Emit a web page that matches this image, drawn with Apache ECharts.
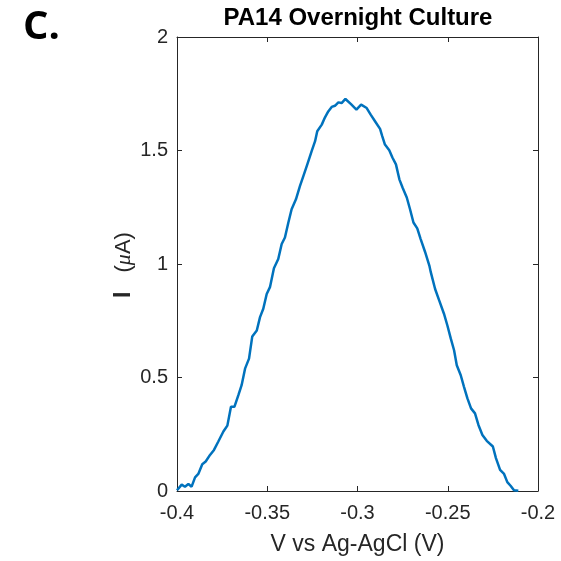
<!DOCTYPE html>
<html><head><meta charset="utf-8">
<script src="https://cdn.jsdelivr.net/npm/echarts@6/dist/echarts.min.js"></script>
<style>html,body{margin:0;padding:0;background:#fff}#c{width:561px;height:561px}</style>
</head><body><div id="c"></div>
<script>
var voltage = [-0.400,-0.3974,-0.3956,-0.3937,-0.3919,-0.3900,-0.3882,-0.3860,-0.3841,-0.3817,-0.3795,-0.3771,-0.3743,-0.3721,-0.3710,-0.3701,-0.3682,-0.3660,-0.3642,-0.3623,-0.3601,-0.3583,-0.3558,-0.3540,-0.3522,-0.3503,-0.3485,-0.3463,-0.3439,-0.3420,-0.3402,-0.3383,-0.3365,-0.3341,-0.3319,-0.3300,-0.3278,-0.3254,-0.3235,-0.3223,-0.3198,-0.3180,-0.3162,-0.3143,-0.3125,-0.3106,-0.3088,-0.3067,-0.3036,-0.3006,-0.2980,-0.2949,-0.2927,-0.2903,-0.2875,-0.2863,-0.2848,-0.2824,-0.2806,-0.2787,-0.2768,-0.2750,-0.2727,-0.2709,-0.2690,-0.2669,-0.2650,-0.2626,-0.2602,-0.2594,-0.2570,-0.2547,-0.2521,-0.2502,-0.2483,-0.2465,-0.2450,-0.2428,-0.2410,-0.2391,-0.2371,-0.2349,-0.2330,-0.2308,-0.2284,-0.2250,-0.2233,-0.2210,-0.2188,-0.2170,-0.2152,-0.2133,-0.2109];
var current = [0.003,0.028,0.019,0.031,0.019,0.060,0.075,0.118,0.130,0.159,0.181,0.218,0.262,0.288,0.291,0.371,0.371,0.422,0.466,0.539,0.583,0.681,0.707,0.766,0.803,0.868,0.898,0.981,1.022,1.088,1.117,1.183,1.241,1.285,1.343,1.387,1.439,1.497,1.541,1.585,1.614,1.646,1.672,1.692,1.697,1.712,1.709,1.727,1.704,1.680,1.702,1.687,1.658,1.629,1.595,1.563,1.526,1.501,1.468,1.439,1.373,1.336,1.293,1.241,1.183,1.157,1.110,1.054,0.993,0.964,0.890,0.839,0.781,0.729,0.671,0.620,0.554,0.510,0.459,0.408,0.364,0.342,0.291,0.247,0.221,0.196,0.145,0.093,0.075,0.039,0.023,0.003,0.001];
var xTicks = [-0.4,-0.35,-0.3,-0.25,-0.2];
var yTicks = [0,0.5,1,1.5,2];
var titleText = 'PA14 Overnight Culture';
var xLabel = 'V vs Ag-AgCl (V)';
var yLabelMain = 'I';
var yLabelUnitOpen = '(';
var yLabelMu = 'μ';
var yLabelUnitClose = 'A)';
var panelLabel = 'C.';

var data = voltage.map(function(v,i){return [v,current[i]];});
var chart = echarts.init(document.getElementById('c'), null, {renderer:'canvas'});
var axisCol = '#262626';
var tickFmtX = function(v){ return String(parseFloat(v.toFixed(2))); };
var tickFmtY = function(v){ return String(parseFloat(v.toFixed(1))); };
chart.setOption({
  animation:false,
  backgroundColor:'#fff',
  graphic:[
    {type:'text',left:23,top:8,style:{text:panelLabel,font:'bold 40px "Open Sans"',fill:'#000'}},
    {type:'text',x:124,y:265,rotation:Math.PI/2,
     style:{text:'{b|'+yLabelMain+'}{g|}{n|'+yLabelUnitOpen+'}{m|'+yLabelMu+'}{n|'+yLabelUnitClose+'}',
       align:'center',verticalAlign:'middle',
       rich:{b:{fontFamily:'Liberation Sans',fontWeight:'bold',fontSize:23,fill:axisCol,color:axisCol},
             g:{width:19,fontSize:20},
             n:{fontFamily:'Liberation Sans',fontSize:22,fill:axisCol,color:axisCol},
             m:{fontFamily:'Liberation Serif',fontStyle:'italic',fontSize:22,fill:axisCol,color:axisCol}}}}
  ],
  title:{text:titleText,left:358,top:6,padding:0,textAlign:'center',textStyle:{fontFamily:'Liberation Sans',fontWeight:'bold',fontSize:24,color:'#000'}},
  grid:{left:177,right:23,top:37,bottom:68,show:false},
  xAxis:[{type:'value',min:-0.4,max:-0.2,interval:0.05,position:'bottom',
    axisLine:{show:true,onZero:false,lineStyle:{color:axisCol,width:1}},
    axisTick:{show:true,inside:true,length:5,lineStyle:{color:axisCol}},
    axisLabel:{color:axisCol,fontFamily:'Liberation Sans',fontSize:20,margin:12,formatter:tickFmtX},
    splitLine:{show:false},
    name:xLabel,nameLocation:'middle',nameGap:42,nameTextStyle:{color:axisCol,fontFamily:'Liberation Sans',fontSize:23}},
   {type:'value',min:-0.4,max:-0.2,interval:0.05,position:'top',
    axisLine:{show:true,onZero:false,lineStyle:{color:axisCol,width:1}},
    axisTick:{show:true,inside:true,length:5,lineStyle:{color:axisCol}},
    axisLabel:{show:false},splitLine:{show:false}}],
  yAxis:[{type:'value',min:0,max:2,interval:0.5,position:'left',
    axisLine:{show:true,onZero:false,lineStyle:{color:axisCol,width:1}},
    axisTick:{show:true,inside:true,length:5,lineStyle:{color:axisCol}},
    axisLabel:{color:axisCol,fontFamily:'Liberation Sans',fontSize:20,margin:9,formatter:tickFmtY},
    splitLine:{show:false}},
   {type:'value',min:0,max:2,interval:0.5,position:'right',
    axisLine:{show:true,onZero:false,lineStyle:{color:axisCol,width:1}},
    axisTick:{show:true,inside:true,length:5,lineStyle:{color:axisCol}},
    axisLabel:{show:false},splitLine:{show:false}}],
  series:[{type:'line',data:data,xAxisIndex:0,yAxisIndex:0,showSymbol:false,symbol:'none',
    lineStyle:{color:'#0072BD',width:2.5},clip:false}]
});
</script></body></html>
